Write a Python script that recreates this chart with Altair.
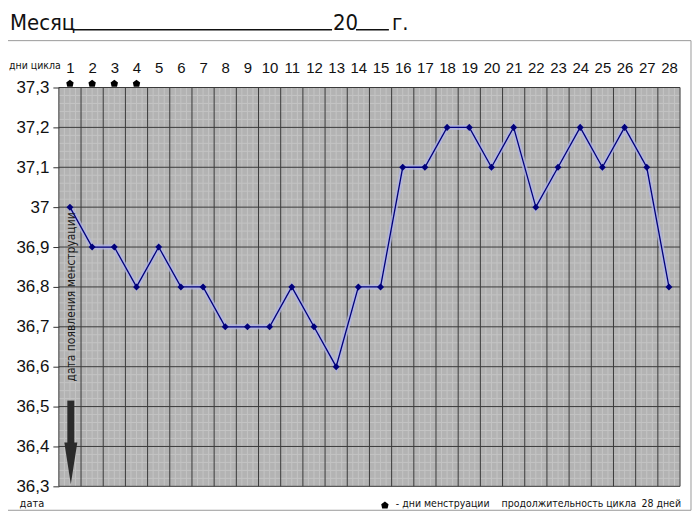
import altair as alt
import pandas as pd
import numpy as np

# ---- data ----
days = list(range(1, 29))
temps = [37.0, 36.9, 36.9, 36.8, 36.9, 36.8, 36.8, 36.7, 36.7, 36.7,
         36.8, 36.7, 36.6, 36.8, 36.8, 37.1, 37.1, 37.2, 37.2, 37.1,
         37.2, 37.0, 37.1, 37.2, 37.1, 37.2, 37.1, 36.8]
mens_days = [1, 2, 3, 4]
y_ticks = [36.3, 36.4, 36.5, 36.6, 36.7, 36.8, 36.9, 37.0, 37.1, 37.2, 37.3]

title_month = "Месяц"
title_year = "20"
title_suffix = "г."
days_label = "дни цикла"
date_label = "дата"
vertical_note = "дата появления менструации"
legend_mens = "- дни менструации"
cycle_text = "продолжительность цикла"
cycle_len = f"{len(days)} дней"

W, H = 623, 400
NARROW = "DejaVu Sans Condensed, DejaVu Sans"
SANS = "Liberation Sans, Arial"
PENTA = "M0,-1L0.95,-0.25L0.7,0.85L-0.7,0.85L-0.95,-0.25Z"

df = pd.DataFrame({"day": days, "temp": temps})
mens = pd.DataFrame({"day": mens_days, "temp": [y_ticks[-1]] * len(mens_days)})
one = pd.DataFrame({"a": [0]})

xs = alt.Scale(domain=[0.5, 28.5], nice=False, zero=False)
ys = alt.Scale(domain=[y_ticks[0], y_ticks[-1]], nice=False, zero=False)

AX = alt.Axis(orient="top", values=days, ticks=False, domain=False, grid=False,
              labelFontSize=15, labelFont=SANS, labelColor="#111",
              labelPadding=12, title=None, labelFlush=False)
AY = alt.Axis(orient="left", values=y_ticks, grid=False, domain=False, tickSize=6,
              tickColor="#333", labelFontSize=17, labelFont=SANS,
              labelColor="#111", labelPadding=4, title=None,
              labelExpr="replace('' + round(datum.value*10)/10, '.', ',')")

def X(f):
    return alt.X(f"{f}:Q", scale=xs, axis=AX, title=None)

def Y(f):
    return alt.Y(f"{f}:Q", scale=ys, axis=AY, title=None)

# grid positions
major_v = pd.DataFrame({"day": [d + 0.5 for d in [0] + days]})
minor_v = pd.DataFrame({"day": [v for v in np.arange(0.5, 28.5, 0.25) if abs((v - 0.5) % 1) > 1e-6]})
major_h = pd.DataFrame({"temp": y_ticks})
minor_h = pd.DataFrame({"temp": [round(v, 3) for v in np.arange(36.3, 37.3, 0.02)
                                 if abs(round(v * 10) - v * 10) > 1e-6]})

minor_vl = alt.Chart(minor_v).mark_rule(color="#c4c4c4", strokeWidth=1).encode(x=X("day"))
minor_hl = alt.Chart(minor_h).mark_rule(color="#c4c4c4", strokeWidth=1).encode(y=Y("temp"))
major_vl = alt.Chart(major_v).mark_rule(color="#3a3a3a", strokeWidth=1).encode(x=X("day"))
major_hl = alt.Chart(major_h).mark_rule(color="#3a3a3a", strokeWidth=1).encode(y=Y("temp"))

halo = alt.Chart(df).mark_line(color="#b0b4e4", strokeWidth=5, opacity=0.8).encode(
    x=X("day"), y=Y("temp"))
line = alt.Chart(df).mark_line(color="#00007a", strokeWidth=1.3).encode(
    x=X("day"), y=Y("temp"))
pts = alt.Chart(df).mark_point(shape="diamond", filled=True, color="#00007a", size=50,
                               opacity=1).encode(x=X("day"), y=Y("temp"))

mens_pts = alt.Chart(mens).mark_point(shape=PENTA, filled=True, color="#000", size=60,
                                      opacity=1, yOffset=-4, clip=False).encode(
    x=X("day"), y=Y("temp"))

frame = alt.Chart(one).mark_rect(filled=False, stroke="#9a9a9a", strokeWidth=1).encode(
    x=alt.value(-54), x2=alt.value(634), y=alt.value(-47), y2=alt.value(424))

def txt(s, x, y, size, font=NARROW, align="left", angle=0, color="#111", baseline="middle"):
    return alt.Chart(one).mark_text(text=s, fontSize=size, font=font, align=align,
                                    baseline=baseline, angle=angle, color=color).encode(
        x=alt.value(x), y=alt.value(y))

def rule(x1, x2, y, w=1.5, color="#111"):
    return alt.Chart(one).mark_rule(strokeWidth=w, color=color).encode(
        x=alt.value(x1), x2=alt.value(x2), y=alt.value(y))

title1 = txt(title_month, -49, -58, 22, baseline="alphabetic")
title2 = txt(title_year, 275, -58, 22, baseline="alphabetic")
title3 = txt(title_suffix, 334, -58, 22, baseline="alphabetic")
ul1 = rule(14, 274, -58)
ul2 = rule(298, 331, -58)

days_t = txt(days_label, -50, -22, 10.5, align="left")
date_t = txt(date_label, -27, 418, 11, align="center")
vert_t = txt(vertical_note, 12, 210, 12, align="center", angle=270, color="#1a1a1a")

shaft = alt.Chart(one).mark_rule(strokeWidth=7, color="#2b2b2b").encode(
    x=alt.value(12), y=alt.value(314), y2=alt.value(358))
head = alt.Chart(one).mark_point(shape="M-0.31,-1L0.31,-1L0,1Z", filled=True, color="#2b2b2b",
                                 size=1764, opacity=1).encode(
    x=alt.value(12), y=alt.value(377))

leg_sym = alt.Chart(one).mark_point(shape=PENTA, filled=True, color="#000", size=60,
                                    opacity=1).encode(x=alt.value(327), y=alt.value(419))
leg_t = txt(legend_mens, 338, 418, 10.5)
cyc_t = txt(cycle_text, 579, 418, 10.5, align="right")
cyc_n = txt(cycle_len, 624, 418, 10.5, align="right")

chart = alt.layer(
    minor_vl, minor_hl, major_vl, major_hl, halo, line, pts, mens_pts,
    frame, title1, title2, title3, ul1, ul2, days_t, date_t, vert_t, shaft, head,
    leg_sym, leg_t, cyc_t, cyc_n
).properties(
    width=W, height=H,
    autosize=alt.AutoSizeParams(type="none"),
    padding={"left": 51, "top": 79, "right": 12, "bottom": 26},
    background="#ffffff",
).configure_view(fill="#b3b3b3", stroke=None)

chart.save("out.html", embed_options={"renderer": "svg", "actions": False})
